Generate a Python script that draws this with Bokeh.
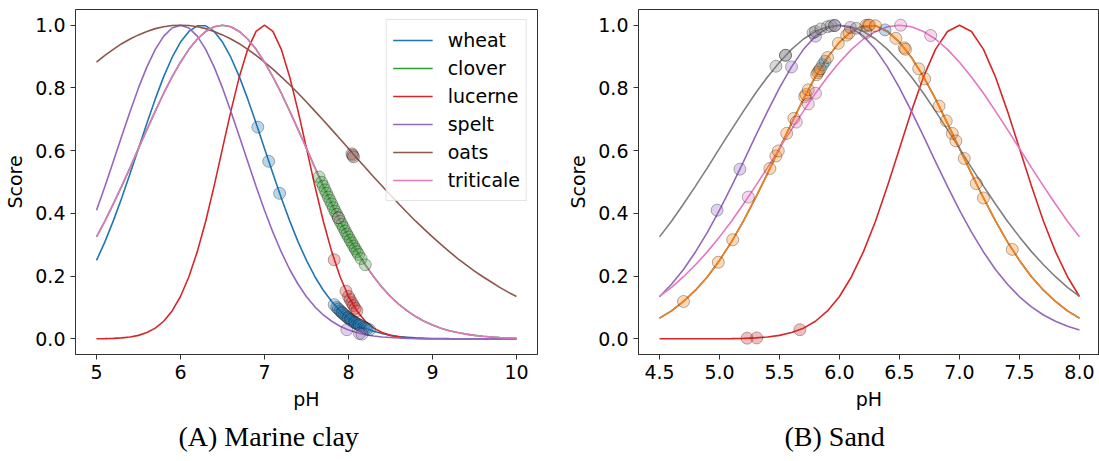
import numpy as np
from bokeh.plotting import figure
from bokeh.layouts import row
from bokeh.models import Range1d, FixedTicker, BasicTickFormatter, CustomJSTickFormatter, Title
from bokeh.embed import file_html
from bokeh.resources import INLINE

# ---------------- data: (A) Marine clay ----------------
ph_clay = np.round(np.arange(5.0, 10.0001, 0.1), 1)

clay_wheat = [0.250, 0.309, 0.376, 0.449, 0.527, 0.607, 0.687, 0.765, 0.836, 0.897, 0.946, 0.980, 0.998,
              0.998, 0.980, 0.946, 0.897, 0.836, 0.765, 0.687, 0.607, 0.527, 0.449, 0.376, 0.309, 0.250,
              0.198, 0.155, 0.119, 0.089, 0.066, 0.048, 0.034, 0.024, 0.017, 0.011, 0.007, 0.005, 0.003, 0.002, 0.001,
              0.001, 0.0005, 0.0003, 0.0002, 0.0001, 0.0001, 0.0, 0.0, 0.0, 0.0]
clay_clover = [0.325, 0.375, 0.430, 0.487, 0.546, 0.607, 0.667, 0.726, 0.783, 0.835, 0.882, 0.923, 0.956, 0.980, 0.995, 1.0,
               0.995, 0.980, 0.956, 0.923, 0.882, 0.835, 0.783, 0.726, 0.667, 0.607,
               0.546, 0.487, 0.430, 0.375, 0.325, 0.278, 0.236, 0.198, 0.164, 0.135,
               0.110, 0.089, 0.071, 0.056, 0.044, 0.034, 0.026, 0.020, 0.015, 0.011,
               0.008, 0.006, 0.004, 0.003, 0.002]
clay_lucerne = [0.0003, 0.0007, 0.0015, 0.0031, 0.006, 0.011, 0.020, 0.034, 0.056, 0.089,
                0.135, 0.198, 0.278, 0.375, 0.487, 0.607, 0.726, 0.835, 0.923, 0.980, 1.0,
                0.980, 0.923, 0.835, 0.726, 0.607, 0.487, 0.375, 0.278, 0.198, 0.135,
                0.089, 0.056, 0.034, 0.020, 0.011, 0.006, 0.0031, 0.0015, 0.0007, 0.0003,
                0.0001, 0.0, 0.0, 0.0, 0.0, 0.0, 0.0, 0.0, 0.0, 0.0]
clay_spelt = [0.410, 0.486, 0.565, 0.646, 0.725, 0.800, 0.867, 0.923, 0.965, 0.991, 1.0,
              0.991, 0.965, 0.923, 0.867, 0.800, 0.725, 0.646, 0.565, 0.486, 0.410,
              0.340, 0.277, 0.221, 0.174, 0.134, 0.102, 0.076, 0.056, 0.040, 0.028,
              0.020, 0.013, 0.009, 0.006, 0.004, 0.0024, 0.0015, 0.0009, 0.0006, 0.0003,
              0.0002, 0.0001, 0.0001, 0.0, 0.0, 0.0, 0.0, 0.0, 0.0, 0.0]
clay_oats = [0.882, 0.904, 0.923, 0.941, 0.956, 0.969, 0.980, 0.989, 0.995, 0.999, 1.0,
             0.999, 0.995, 0.989, 0.980, 0.969, 0.956, 0.941, 0.923, 0.904, 0.882,
             0.860, 0.835, 0.810, 0.783, 0.755, 0.726, 0.697, 0.667, 0.637, 0.607,
             0.576, 0.546, 0.516, 0.487, 0.458, 0.430, 0.402, 0.375, 0.350, 0.325,
             0.301, 0.278, 0.256, 0.236, 0.216, 0.198, 0.181, 0.164, 0.149, 0.135]
clay_triticale = [0.325, 0.375, 0.430, 0.487, 0.546, 0.607, 0.667, 0.726, 0.783, 0.835, 0.882, 0.923, 0.956, 0.980, 0.995, 1.0,
                  0.995, 0.980, 0.956, 0.923, 0.882, 0.835, 0.783, 0.726, 0.667, 0.607,
                  0.546, 0.487, 0.430, 0.375, 0.325, 0.278, 0.236, 0.198, 0.164, 0.135,
                  0.110, 0.089, 0.071, 0.056, 0.044, 0.034, 0.026, 0.020, 0.015, 0.011,
                  0.008, 0.006, 0.004, 0.003, 0.002]

# observed points (marine clay)
clay_wheat_px = [6.92, 7.05, 7.18, 7.83, 7.86, 7.88, 7.90, 7.92, 7.93, 7.95, 7.97, 7.99, 8.00, 8.02, 8.03,
                 8.05, 8.07, 8.08, 8.10, 8.12, 8.13, 8.15, 8.18, 8.20, 8.22, 8.25]
clay_wheat_py = [0.675, 0.566, 0.464, 0.109, 0.100, 0.095, 0.089, 0.084, 0.082, 0.077, 0.072, 0.068, 0.066, 0.062, 0.060,
                 0.056, 0.053, 0.051, 0.048, 0.045, 0.044, 0.041, 0.037, 0.034, 0.032, 0.029]
clay_clover_px = [7.65, 7.68, 7.70, 7.72, 7.74, 7.76, 7.78, 7.80, 7.82, 7.84, 7.86, 7.88, 7.90, 7.92, 7.94,
                  7.96, 7.98, 8.00, 8.02, 8.04, 8.06, 8.08, 8.10, 8.12, 8.15, 8.20]
clay_clover_py = [0.516, 0.499, 0.487, 0.475, 0.464, 0.452, 0.441, 0.430, 0.418, 0.407, 0.397, 0.386, 0.375, 0.365, 0.355,
                  0.344, 0.334, 0.325, 0.315, 0.306, 0.296, 0.287, 0.278, 0.269, 0.256, 0.236]
clay_lucerne_px = [7.83, 7.97, 8.00, 8.02, 8.04, 8.06, 8.08, 8.10]
clay_lucerne_py = [0.252, 0.152, 0.135, 0.125, 0.115, 0.106, 0.097, 0.089]
clay_spelt_px = [7.98, 8.13, 8.16]
clay_spelt_py = [0.029, 0.017, 0.015]
clay_oats_px = [8.04, 8.05, 8.06]
clay_oats_py = [0.590, 0.585, 0.580]
clay_triticale_px = [7.88]
clay_triticale_py = [0.386]

# ---------------- data: (B) Sand ----------------
ph_sand = np.round(np.arange(4.5, 8.0001, 0.1), 1)

sand_blue = [0.066, 0.089, 0.119, 0.155, 0.198, 0.250, 0.309, 0.376, 0.449, 0.527, 0.607, 0.687, 0.765, 0.836, 0.897, 0.946, 0.980, 0.998,
             0.998, 0.980, 0.946, 0.897, 0.836, 0.765, 0.687, 0.607, 0.527, 0.449, 0.376, 0.309, 0.250, 0.198, 0.155, 0.119, 0.089, 0.066]
sand_orange = [0.066, 0.089, 0.119, 0.155, 0.198, 0.250, 0.309, 0.376, 0.449, 0.527, 0.607, 0.687, 0.765, 0.836, 0.897, 0.946, 0.980, 0.998,
               0.998, 0.980, 0.946, 0.897, 0.836, 0.765, 0.687, 0.607, 0.527, 0.449, 0.376, 0.309, 0.250, 0.198, 0.155, 0.119, 0.089, 0.066]
sand_red = [0.0, 0.0, 0.0, 0.0001, 0.0001,
            0.0003, 0.0007, 0.0015, 0.0031, 0.006, 0.011, 0.020, 0.034, 0.056, 0.089,
            0.135, 0.198, 0.278, 0.375, 0.487, 0.607, 0.726, 0.835, 0.923, 0.980, 1.0,
            0.980, 0.923, 0.835, 0.726, 0.607, 0.487, 0.375, 0.278, 0.198, 0.135]
sand_purple = [0.134, 0.174, 0.221, 0.277, 0.340, 0.410, 0.486, 0.565, 0.646, 0.725, 0.800, 0.867, 0.923, 0.965, 0.991, 1.0,
               0.991, 0.965, 0.923, 0.867, 0.800, 0.725, 0.646, 0.565, 0.486, 0.410,
               0.340, 0.277, 0.221, 0.174, 0.134, 0.102, 0.076, 0.056, 0.040, 0.028]
sand_pink = [0.135, 0.164, 0.198, 0.236, 0.278, 0.325, 0.375, 0.430, 0.487, 0.546, 0.607, 0.667, 0.726, 0.783, 0.835,
             0.882, 0.923, 0.956, 0.980, 0.995, 1.0,
             0.995, 0.980, 0.956, 0.923, 0.882, 0.835, 0.783, 0.726, 0.667, 0.607, 0.546, 0.487, 0.430, 0.375, 0.325]
sand_gray = [0.325, 0.375, 0.430, 0.487, 0.546, 0.607, 0.667, 0.726, 0.783, 0.835, 0.882, 0.923, 0.956, 0.980, 0.995, 1.0,
             0.995, 0.980, 0.956, 0.923, 0.882, 0.835, 0.783, 0.726, 0.667, 0.607,
             0.546, 0.487, 0.430, 0.375, 0.325, 0.278, 0.236, 0.198, 0.164, 0.135]

sand_orange_px = [4.70, 4.99, 5.11, 5.42, 5.47, 5.49, 5.56, 5.62, 5.71, 5.72, 5.74, 5.81, 5.82, 5.84, 5.90, 5.99,
                  6.06, 6.08, 6.22, 6.24, 6.25, 6.30, 6.47, 6.54, 6.55, 6.66, 6.71, 6.83, 6.89, 6.94, 6.97,
                  7.04, 7.14, 7.20, 7.44]
sand_orange_py = [0.119, 0.244, 0.316, 0.543, 0.583, 0.599, 0.655, 0.703, 0.772, 0.779, 0.794, 0.842, 0.849, 0.861, 0.897, 0.942,
                  0.968, 0.975, 0.999, 1.0, 1.0, 0.998, 0.958, 0.928, 0.923, 0.861, 0.829, 0.742, 0.695, 0.655, 0.631,
                  0.575, 0.495, 0.449, 0.285]
sand_blue_px = [5.83, 5.86, 5.88, 6.38]
sand_blue_py = [0.855, 0.874, 0.885, 0.985]
sand_gray_px = [5.47, 5.55, 5.55, 5.78, 5.80, 5.845, 5.90, 5.93, 5.96, 6.14, 6.22]
sand_gray_py = [0.869, 0.904, 0.904, 0.976, 0.980, 0.988, 0.995, 0.998, 0.999, 0.990, 0.976]
sand_purple_px = [4.98, 5.17, 5.60, 5.80, 5.96, 6.09]
sand_purple_py = [0.410, 0.541, 0.867, 0.965, 0.999, 0.993]
sand_pink_px = [5.24, 5.64, 5.74, 5.80, 6.51, 6.76]
sand_pink_py = [0.452, 0.691, 0.749, 0.783, 1.0, 0.967]
sand_red_px = [5.23, 5.31, 5.67]
sand_red_py = [0.002, 0.003, 0.029]

clay_xticks = [5, 6, 7, 8, 9, 10]
sand_xticks = [4.5, 5.0, 5.5, 6.0, 6.5, 7.0, 7.5, 8.0]
score_ticks = [0.0, 0.2, 0.4, 0.6, 0.8, 1.0]

C = {"blue": "#1f77b4", "orange": "#ff7f0e", "green": "#2ca02c", "red": "#d62728",
     "purple": "#9467bd", "brown": "#8c564b", "pink": "#e377c2", "gray": "#7f7f7f"}

FONT = "DejaVu Sans"
FS = "19px"
SPINE = "#333333"
LW = 1.6


def fixed1():
    return CustomJSTickFormatter(code="return tick.toFixed(1);")


def style(p, xticks, one_decimal_x):
    p.xaxis.ticker = FixedTicker(ticks=xticks)
    p.yaxis.ticker = FixedTicker(ticks=score_ticks)
    p.xaxis.formatter = fixed1() if one_decimal_x else CustomJSTickFormatter(code="return tick.toFixed(0);")
    p.yaxis.formatter = fixed1()
    p.xaxis.axis_label = "pH"
    p.yaxis.axis_label = "Score"
    for ax in p.axis:
        ax.axis_label_text_font = FONT
        ax.axis_label_text_font_size = FS
        ax.axis_label_text_font_style = "normal"
        ax.axis_label_text_color = "black"
        ax.major_label_text_font = FONT
        ax.major_label_text_font_size = FS
        ax.major_label_text_color = "black"
        ax.major_tick_out = 5
        ax.major_tick_in = 0
        ax.minor_tick_out = 0
        ax.minor_tick_in = 0
        ax.axis_line_color = SPINE
        ax.major_tick_line_color = SPINE
        ax.major_label_standoff = 5
        ax.axis_label_standoff = 6
    p.grid.visible = False
    p.outline_line_color = SPINE
    p.outline_line_width = 1
    p.background_fill_color = "white"
    p.border_fill_color = "white"


def pts(p, x, y, c):
    p.scatter(x, y, size=12, fill_color=c, fill_alpha=0.3, line_color="black", line_alpha=0.3, line_width=1)


# ---------------- figure A ----------------
pA = figure(width=560, height=461, x_range=Range1d(4.75, 10.25), y_range=Range1d(-0.05, 1.05),
            output_backend="svg", toolbar_location=None, title=None,
            min_border_left=75, min_border_right=23, min_border_top=9, min_border_bottom=107)
style(pA, clay_xticks, False)

pA.line(ph_clay, clay_wheat, color=C["blue"], line_width=LW, legend_label="wheat")
pA.line(ph_clay, clay_clover, color=C["green"], line_width=LW, legend_label="clover")
pA.line(ph_clay, clay_lucerne, color=C["red"], line_width=LW, legend_label="lucerne")
pA.line(ph_clay, clay_spelt, color=C["purple"], line_width=LW, legend_label="spelt")
pA.line(ph_clay, clay_oats, color=C["brown"], line_width=LW, legend_label="oats")
pA.line(ph_clay, clay_triticale, color=C["pink"], line_width=LW, legend_label="triticale")

pts(pA, clay_wheat_px, clay_wheat_py, C["blue"])
pts(pA, clay_clover_px, clay_clover_py, C["green"])
pts(pA, clay_lucerne_px, clay_lucerne_py, C["red"])
pts(pA, clay_spelt_px, clay_spelt_py, C["purple"])
pts(pA, clay_oats_px, clay_oats_py, C["brown"])
pts(pA, clay_triticale_px, clay_triticale_py, C["pink"])

lg = pA.legend[0]
lg.location = "top_right"
lg.label_text_font = FONT
lg.label_text_font_size = FS
lg.label_text_color = "black"
lg.glyph_width = 40
lg.glyph_height = 28
lg.label_height = 28
lg.label_standoff = 15
lg.spacing = 0
lg.padding = 6
lg.margin = 10
lg.border_line_color = "#cccccc"
lg.border_line_width = 1
lg.background_fill_alpha = 0.8

pA.add_layout(Title(text="(A) Marine clay", align="left", offset=103, text_font="Liberation Serif",
                    text_font_size="28px", text_font_style="normal", text_color="black", standoff=12), "below")

# ---------------- figure B ----------------
pB = figure(width=539, height=461, x_range=Range1d(4.325, 8.167), y_range=Range1d(-0.05, 1.05),
            output_backend="svg", toolbar_location=None, title=None,
            min_border_left=78, min_border_right=0, min_border_top=9, min_border_bottom=107)
style(pB, sand_xticks, True)

pB.line(ph_sand, sand_blue, color=C["blue"], line_width=LW)
pB.line(ph_sand, sand_orange, color=C["orange"], line_width=LW)
pB.line(ph_sand, sand_red, color=C["red"], line_width=LW)
pB.line(ph_sand, sand_purple, color=C["purple"], line_width=LW)
pB.line(ph_sand, sand_pink, color=C["pink"], line_width=LW)
pB.line(ph_sand, sand_gray, color=C["gray"], line_width=LW)

pts(pB, sand_blue_px, sand_blue_py, C["blue"])
pts(pB, sand_orange_px, sand_orange_py, C["orange"])
pts(pB, sand_red_px, sand_red_py, C["red"])
pts(pB, sand_purple_px, sand_purple_py, C["purple"])
pts(pB, sand_pink_px, sand_pink_py, C["pink"])
pts(pB, sand_gray_px, sand_gray_py, C["gray"])

pB.add_layout(Title(text="(B) Sand", align="left", offset=146, text_font="Liberation Serif",
                    text_font_size="28px", text_font_style="normal", text_color="black", standoff=12), "below")

layout = row(pA, pB)
open("out.html", "w").write(file_html(layout, INLINE))
